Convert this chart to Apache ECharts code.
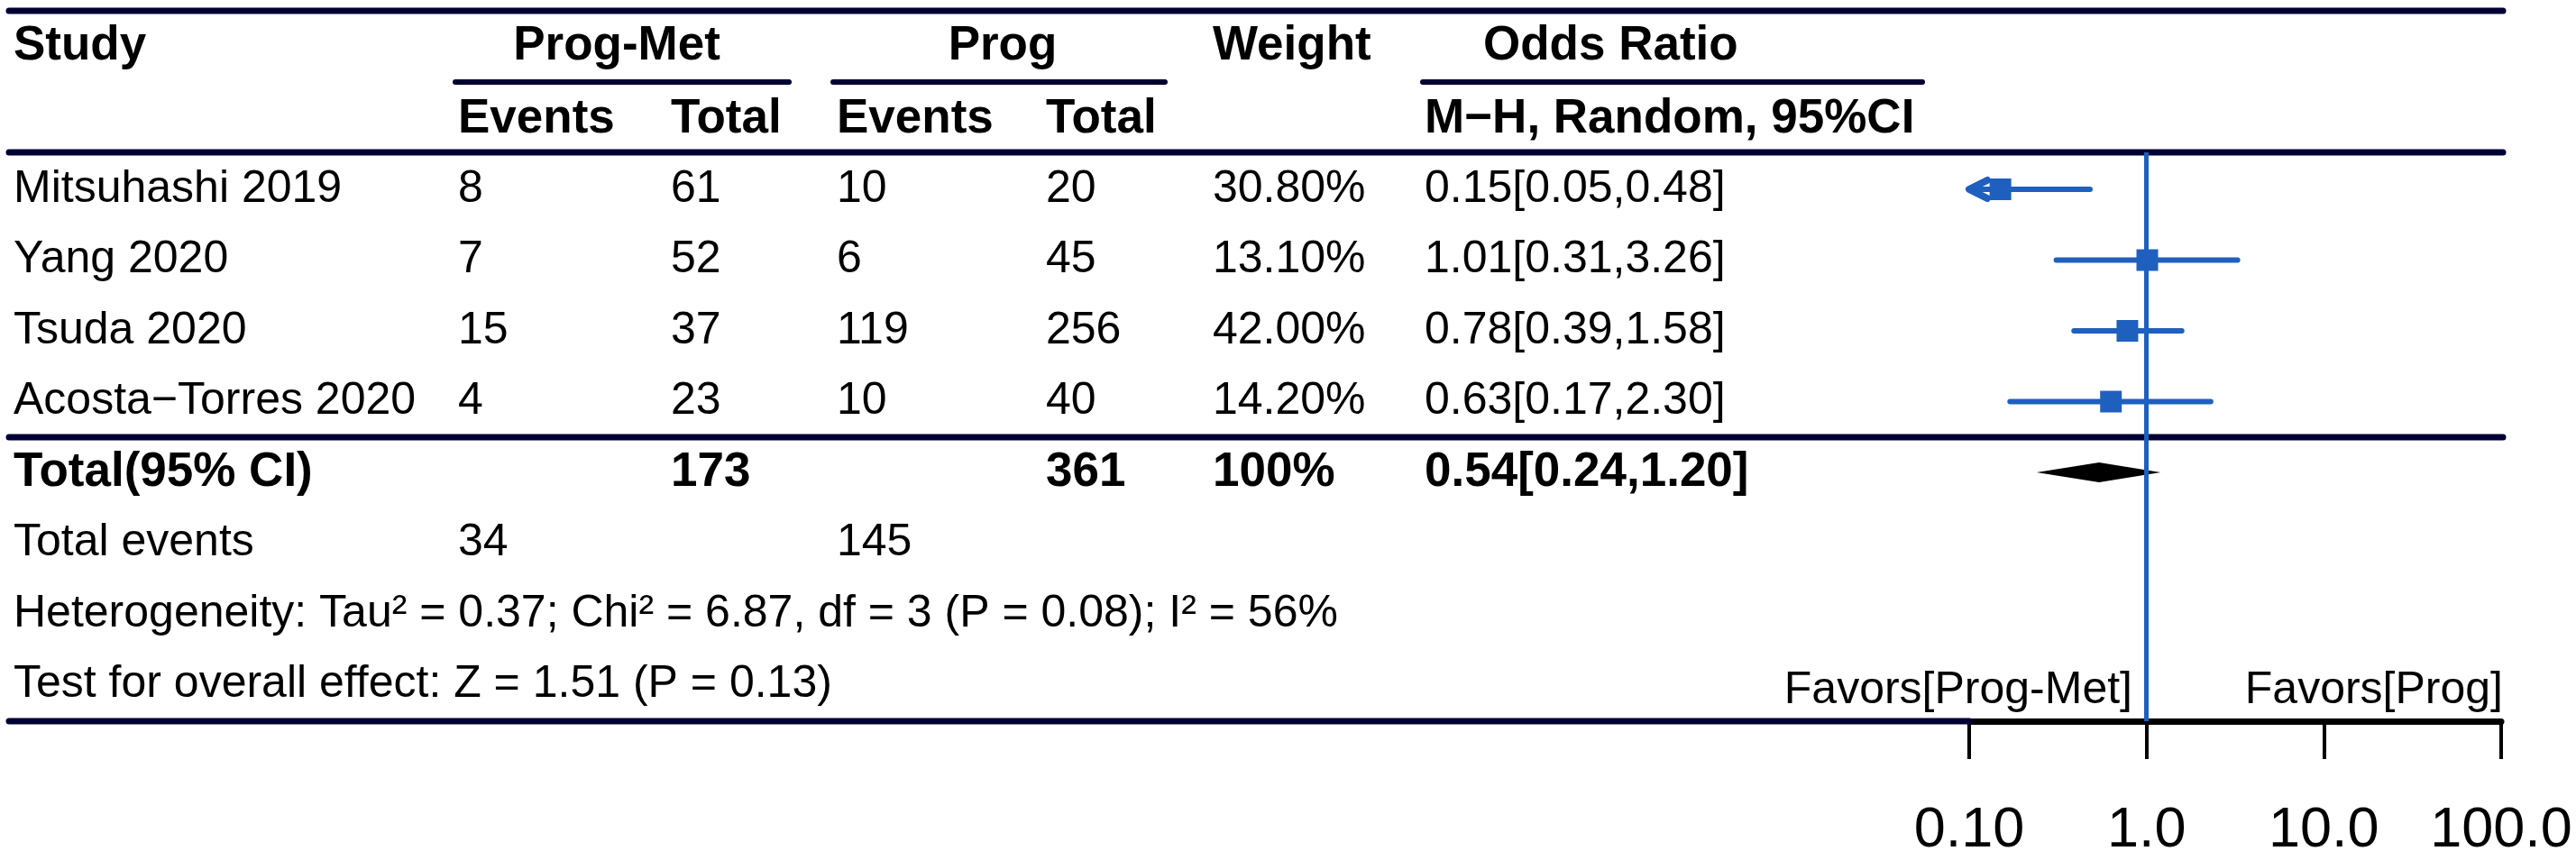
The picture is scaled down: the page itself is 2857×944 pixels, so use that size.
<!DOCTYPE html>
<html>
<head>
<meta charset="utf-8">
<script src="https://cdn.jsdelivr.net/npm/echarts@6/dist/echarts.min.js"></script>
<style>
  html, body { margin: 0; padding: 0; background: #fff; }
  #chart { width: 2857px; height: 944px; }
</style>
</head>
<body>
<div id="chart"></div>
<script>
// study data
var studies = ['Mitsuhashi 2019', 'Yang 2020', 'Tsuda 2020', 'Acosta\u2212Torres 2020'];
var eventsMet = [8, 7, 15, 4];
var totalMet = [61, 52, 37, 23];
var eventsProg = [10, 6, 119, 10];
var totalProg = [20, 45, 256, 40];
var weights = ['30.80%', '13.10%', '42.00%', '14.20%'];
var oddsRatio = [0.15, 1.01, 0.78, 0.63];
var lower = [0.05, 0.31, 0.39, 0.17];
var upper = [0.48, 3.26, 1.58, 2.30];

// pooled result
var pooled = { or: 0.54, lo: 0.24, hi: 1.20 };
var totals = { met: 173, prog: 361, weight: '100%' };
var totalEvents = { met: 34, prog: 145 };
var hetText = 'Heterogeneity: Tau\u00b2 = 0.37; Chi\u00b2 = 6.87, df = 3 (P = 0.08); I\u00b2 = 56%';
var testText = 'Test for overall effect: Z = 1.51 (P = 0.13)';

// axis
var tickValues = [0.1, 1, 10, 100];
var tickLabels = ['0.10', '1.0', '10.0', '100.0'];

// layout
var FONT = 'Liberation Sans, Arial, sans-serif';
var NAVY = '#000035';
var BLUE = '#1f60be';
var REG = 50, BOLD = 53;
var colX = [15, 508, 744, 928, 1160, 1345, 1580];
var rowY0 = 210, rowStep = 78.5;
var totalRow = 4;
var plotLeft = 2184, plotRight = 2774, plotTop = 169, plotBottom = 800;

function rowY(k) { return rowY0 + rowStep * k; }
function fmtOR(o, l, h) { return o.toFixed(2) + '[' + l.toFixed(2) + ',' + h.toFixed(2) + ']'; }

var graphics = [];
function txt(s, x, y, bold, size, align) {
  graphics.push({
    type: 'text', x: x, y: y, silent: true,
    style: {
      text: String(s), fill: '#000',
      font: (bold ? 'bold ' : '') + (size || (bold ? BOLD : REG)) + 'px ' + FONT,
      textAlign: align || 'left', align: align || 'left',
      textVerticalAlign: 'middle', verticalAlign: 'middle'
    }
  });
}
function rule(x1, x2, y, w, color) {
  graphics.push({
    type: 'line', silent: true, z: 5,
    shape: { x1: x1, y1: y, x2: x2, y2: y },
    style: { stroke: color || NAVY, lineWidth: w || 7, lineCap: 'round' }
  });
}

// header
txt('Study', colX[0], 51, true);
txt('Prog-Met', 684, 51, true, null, 'center');
txt('Prog', 1112, 51, true, null, 'center');
txt('Weight', colX[5], 51, true);
txt('Odds Ratio', 1645, 51, true);
txt('Events', colX[1], 132, true);
txt('Total', colX[2], 132, true);
txt('Events', colX[3], 132, true);
txt('Total', colX[4], 132, true);
txt('M\u2212H, Random, 95%CI', colX[6], 132, true);

// studies
studies.forEach(function (s, i) {
  var y = rowY(i);
  txt(s, colX[0], y);
  txt(eventsMet[i], colX[1], y);
  txt(totalMet[i], colX[2], y);
  txt(eventsProg[i], colX[3], y);
  txt(totalProg[i], colX[4], y);
  txt(weights[i], colX[5], y);
  txt(fmtOR(oddsRatio[i], lower[i], upper[i]), colX[6], y);
});

// totals
var ty = rowY(totalRow);
txt('Total(95% CI)', colX[0], ty, true);
txt(totals.met, colX[2], ty, true);
txt(totals.prog, colX[4], ty, true);
txt(totals.weight, colX[5], ty, true);
txt(fmtOR(pooled.or, pooled.lo, pooled.hi), colX[6], ty, true);
txt('Total events', colX[0], rowY(5));
txt(totalEvents.met, colX[1], rowY(5));
txt(totalEvents.prog, colX[3], rowY(5));
txt(hetText, colX[0], rowY(6));
txt(testText, colX[0], rowY(7));
txt('Favors[Prog-Met]', 2365, 766, false, REG, 'right');
txt('Favors[Prog]', 2776, 766, false, REG, 'right');

// rules
rule(10, 2776, 12);
rule(505, 875, 91, 6);
rule(924, 1292, 91, 6);
rule(1578, 2132, 91, 6);
rule(10, 2776, 169);
rule(10, 2776, 485);
rule(10, plotLeft, plotBottom);

var chart = echarts.init(document.getElementById('chart'));

var ciData = studies.map(function (s, i) { return [lower[i], upper[i], i]; });
var pointData = studies.map(function (s, i) { return [oddsRatio[i], i]; });

var option = {
  animation: false,
  backgroundColor: '#fff',
  grid: {
    left: plotLeft, width: plotRight - plotLeft,
    top: plotTop, height: plotBottom - plotTop,
    containLabel: false,
    outerBoundsMode: 'none'
  },
  xAxis: {
    type: 'log', logBase: 10, min: 0.1, max: 100, splitNumber: 3,
    axisLine: { show: true, onZero: false, lineStyle: { color: '#000', width: 7 } },
    axisTick: { show: true, inside: false, length: 42, lineStyle: { color: '#000', width: 4 } },
    axisLabel: {
      show: true, margin: 90, fontSize: 63, color: '#000', fontFamily: FONT,
      showMinLabel: true, showMaxLabel: true,
      formatter: function (v) {
        for (var i = 0; i < tickValues.length; i++) {
          if (Math.abs(Math.log10(v) - Math.log10(tickValues[i])) < 1e-6) return tickLabels[i];
        }
        return '';
      }
    },
    splitLine: { show: false }
  },
  yAxis: {
    type: 'value', inverse: true,
    min: (plotTop - rowY0) / rowStep,
    max: (plotBottom - rowY0) / rowStep,
    show: false
  },
  series: [
    {
      type: 'custom', name: 'ci', z: 3,
      data: ciData,
      encode: { x: [0, 1], y: 2 },
      renderItem: function (params, api) {
        var lo = api.value(0), hi = api.value(1), k = api.value(2);
        var minX = tickValues[0];
        var p1 = api.coord([Math.max(lo, minX), k]);
        var p2 = api.coord([hi, k]);
        var children = [{
          type: 'line',
          shape: { x1: p1[0], y1: p1[1], x2: p2[0], y2: p2[1] },
          style: { stroke: BLUE, lineWidth: 6, lineCap: 'round' }
        }];
        if (lo < minX) {
          children.push({
            type: 'polyline',
            shape: { points: [[p1[0] + 20, p1[1] - 10], [p1[0], p1[1]], [p1[0] + 20, p1[1] + 10]] },
            style: { stroke: BLUE, fill: null, lineWidth: 8, lineCap: 'round', lineJoin: 'round' }
          });
        }
        return { type: 'group', children: children };
      }
    },
    {
      type: 'scatter', name: 'or', z: 4,
      symbol: 'rect', symbolSize: 24,
      itemStyle: { color: BLUE, opacity: 1 },
      data: pointData,
      markLine: {
        silent: true, symbol: 'none',
        label: { show: false },
        lineStyle: { color: BLUE, width: 5, type: 'solid', opacity: 1 },
        data: [{ xAxis: 1 }]
      }
    },
    {
      type: 'custom', name: 'pooled', z: 4,
      data: [[pooled.lo, pooled.hi, pooled.or, totalRow]],
      encode: { x: [0, 1, 2], y: 3 },
      renderItem: function (params, api) {
        var k = api.value(3);
        var pl = api.coord([api.value(0), k]);
        var ph = api.coord([api.value(1), k]);
        var pm = api.coord([api.value(2), k]);
        return {
          type: 'polygon',
          shape: { points: [pl, [pm[0], pm[1] - 11], ph, [pm[0], pm[1] + 11]] },
          style: { fill: '#000', stroke: null }
        };
      }
    }
  ],
  graphic: graphics
};

chart.setOption(option);
</script>
</body>
</html>
